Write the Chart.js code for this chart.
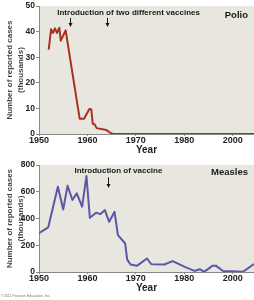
<!DOCTYPE html>
<html>
<head>
<meta charset="utf-8">
<script src="https://cdn.jsdelivr.net/npm/chart.js@4"></script>
<style>
  html, body { margin: 0; padding: 0; background: #fff; }
  body { width: 254px; height: 300px; position: relative; overflow: hidden; }
  .box { position: absolute; left: 0; width: 254px; }
  #polioBox { top: 0; height: 156px; }
  #measlesBox { top: 154px; height: 146px; }
  #credit { position: absolute; left: 1px; top: 294px; font: 3.6px "Liberation Sans", Arial, sans-serif; color: #777; white-space: nowrap; }
</style>
</head>
<body>
<div class="box" id="polioBox"><canvas id="polioChart"></canvas></div>
<div class="box" id="measlesBox"><canvas id="measlesChart"></canvas></div>
<div id="credit">©2011 Pearson Education, Inc.</div>
<script>
// Datos (x = posición en el eje de años)
var polioYears = [1952.0, 1952.5, 1952.9, 1953.3, 1953.7, 1954.2, 1954.5, 1955.5, 1958.4, 1959.3, 1960.4, 1960.8, 1961.1, 1961.5, 1961.9, 1963.9, 1964.6, 1965.2, 1994.4];
var polioCases = [33, 41, 39.5, 41.3, 39.5, 41.5, 36.5, 40.5, 6, 6, 9.8, 9.6, 4, 3.7, 2.3, 1.6, 0.6, 0, 0];

var measlesYears = [1950, 1951.9, 1953.9, 1955.0, 1955.9, 1956.9, 1957.8, 1958.9, 1959.8, 1960.5, 1961.8, 1962.7, 1963.6, 1964.5, 1965.6, 1966.3, 1967.8, 1968.2, 1968.9, 1970.2, 1972.3, 1973.2, 1975.9, 1977.6, 1980.1, 1982.1, 1983.2, 1984.1, 1985.8, 1986.6, 1988.0, 1990.1, 1992.1, 1994.4];
var measlesCases = [290, 333, 637, 468, 645, 538, 588, 488, 718, 405, 443, 433, 463, 375, 450, 276, 213, 94, 56, 46, 101, 58, 56, 81, 38, 8, 21, 1, 46, 46, 8, 6, 1, 60];

var xTickPositions = [1950, 1960, 1970, 1980, 1990];
var xTickLabels = ['1950', '1960', '1970', '1980', '2000'];
var polioVaccineYears = [1956.5, 1964.0];
var measlesVaccineYears = [1964.3];

var FONT = '"Liberation Sans", Arial, sans-serif';
Chart.defaults.font.family = FONT;
Chart.defaults.color = '#222';

// Fondo del área del gráfico + textos y flechas
function notesPlugin(note) {
    return {
        id: 'notes',
        beforeDraw: function(chart) {
            var a = chart.chartArea, ctx = chart.ctx;
            ctx.save();
            ctx.fillStyle = '#e8e6df';
            ctx.fillRect(a.left, a.top, a.right - a.left, a.bottom - a.top);
            ctx.restore();
        },
        afterDraw: function(chart) {
            var xs = chart.scales.x, ys = chart.scales.y, ctx = chart.ctx;
            ctx.save();
            ctx.fillStyle = '#1a1a1a';
            ctx.strokeStyle = '#1a1a1a';
            ctx.textAlign = 'center';
            ctx.textBaseline = 'middle';
            ctx.font = 'bold 8px ' + FONT;
            ctx.fillText(note.text, xs.getPixelForValue(note.textX), ys.getPixelForValue(note.textY));
            note.arrows.forEach(function(yr) {
                var px = Math.round(xs.getPixelForValue(yr)) + 0.5;
                var y1 = ys.getPixelForValue(note.arrowFrom), y2 = ys.getPixelForValue(note.arrowTo);
                ctx.lineWidth = 1;
                ctx.beginPath();
                ctx.moveTo(px, y1);
                ctx.lineTo(px, y2 - 3);
                ctx.stroke();
                ctx.beginPath();
                ctx.moveTo(px - 2, y2 - 4);
                ctx.lineTo(px + 2, y2 - 4);
                ctx.lineTo(px, y2);
                ctx.closePath();
                ctx.fill();
            });
            ctx.font = 'bold 9.5px ' + FONT;
            ctx.textAlign = 'right';
            ctx.fillText(note.name, chart.chartArea.right - 6, ys.getPixelForValue(note.nameY));
            ctx.restore();
        }
    };
}

function makeChart(id, years, cases, color, yMax, yStep, xHeight, titlePad, padTop, note) {
    return new Chart(document.getElementById(id), {
        type: 'line',
        data: {
            datasets: [{
                data: years.map(function(y, i) { return { x: y, y: cases[i] }; }),
                borderColor: color,
                borderWidth: 2,
                pointRadius: 0,
                tension: 0,
                borderJoinStyle: 'round'
            }]
        },
        options: {
            responsive: true,
            maintainAspectRatio: false,
            animation: false,
            devicePixelRatio: 1,
            layout: { padding: { top: padTop, left: 0, right: 0, bottom: 0 } },
            plugins: { legend: { display: false }, tooltip: { enabled: false } },
            scales: {
                x: {
                    type: 'linear',
                    min: 1950,
                    max: 1994.4,
                    afterFit: function(s) { s.height = xHeight; },
                    afterBuildTicks: function(s) {
                        s.ticks = xTickPositions.map(function(v) { return { value: v }; });
                    },
                    ticks: {
                        autoSkip: false,
                        maxRotation: 0,
                        padding: 0,
                        font: { size: 9, weight: 'bold', lineHeight: 1 },
                        callback: function(v) { return xTickLabels[xTickPositions.indexOf(v)]; }
                    },
                    grid: { drawOnChartArea: false, tickLength: 2, color: '#888' },
                    border: { color: '#888' },
                    title: { display: true, text: 'Year', font: { size: 10, weight: 'bold' }, padding: { top: 0, bottom: titlePad } }
                },
                y: {
                    min: 0,
                    max: yMax,
                    afterFit: function(s) { s.width = 39; },
                    ticks: { stepSize: yStep, padding: 1, font: { size: 8.5, weight: 'bold' } },
                    grid: { drawOnChartArea: false, tickLength: 3, color: '#888' },
                    border: { color: '#888' },
                    title: {
                        display: true,
                        text: ['Number of reported cases', '(thousands)'],
                        color: '#444',
                        font: { size: 8, weight: 'bold', lineHeight: 1.3 },
                        padding: { top: 5, bottom: 0 }
                    }
                }
            }
        },
        plugins: [notesPlugin(note)]
    });
}

var polioChart = makeChart('polioChart', polioYears, polioCases, '#a8321e', 50, 10, 22, 0, 5, {
    text: 'Introduction of two different vaccines', textX: 1968.5, textY: 47.4,
    arrows: polioVaccineYears, arrowFrom: 45.4, arrowTo: 41.8,
    name: 'Polio', nameY: 46.5
});

var measlesChart = makeChart('measlesChart', measlesYears, measlesCases, '#5b58a8', 800, 200, 28, 6, 11, {
    text: 'Introduction of vaccine', textX: 1966.4, textY: 757,
    arrows: measlesVaccineYears, arrowFrom: 708, arrowTo: 628,
    name: 'Measles', nameY: 742
});
</script>
</body>
</html>
